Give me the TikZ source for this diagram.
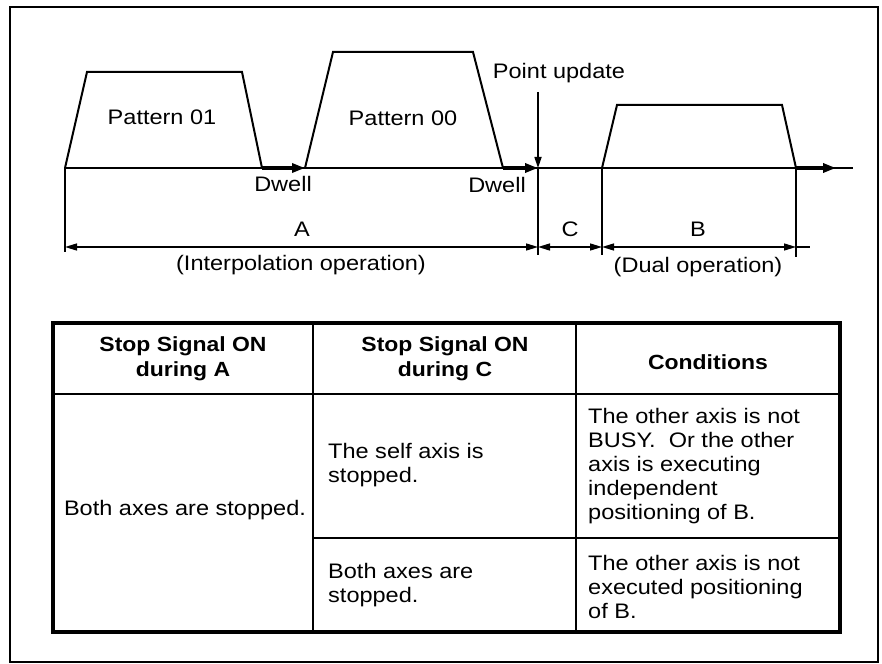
\documentclass[tikz,border=0pt]{standalone}
\usepackage{fontspec}
\setmainfont[FakeStretch=1.12]{Liberation Sans}
\usepackage{tikz}
\usetikzlibrary{positioning, arrows.meta}

\begin{document}
\begin{tikzpicture}[x=1pt, y=-1pt,
        pulse/.style={line width=2pt, line join=miter},
        axisline/.style={line width=1.6pt},
        dwellarrow/.style={-{Triangle[length=13pt, width=9pt]}, line width=3.2pt},
        arrow/.style={-{Triangle[length=11pt, width=7pt]}, line width=1.6pt},
        dimarrow/.style={{Triangle[length=12pt, width=7pt]}-{Triangle[length=12pt, width=7pt]}, line width=1.4pt},
        extline/.style={line width=1.4pt},
        lbl/.style={font=\fontsize{21}{24}\selectfont, inner sep=0pt},
        headtext/.style={font=\bfseries\fontsize{20.5}{25}\selectfont, align=center, inner sep=0pt},
        celltext/.style={font=\fontsize{21}{24}\selectfont, align=left, inner sep=0pt, anchor=west},
        tableframe/.style={line width=3.2pt},
        tablerule/.style={line width=1.6pt}
    ]
    \useasboundingbox (0,0) rectangle (882,663);

    % ============ OUTER FRAME ============
    \draw[line width=2pt] (10,7) rectangle (878,662);

    % ============ TIME AXIS ============
    \coordinate (orig) at (65,168);
    \coordinate (dwellA) at (262,168);
    \coordinate (startB) at (305,168);
    \coordinate (dwellB) at (503,168);
    \coordinate (update) at (538,168);
    \coordinate (dualstart) at (602,168);
    \coordinate (dualend) at (796,168);
    \coordinate (dualtip) at (836,168);
    \coordinate (axisend) at (853,168);

    \draw[axisline] (orig) -- (axisend);

    % pulses
    \draw[pulse] (orig) -- (87,72) -- (242,72) -- (dwellA);
    \draw[pulse] (startB) -- (333,52) -- (473,52) -- (dwellB);
    \draw[pulse] (dualstart) -- (617,105) -- (782,105) -- (dualend);

    \node[lbl] (pat01) at (162,117) {Pattern 01};
    \node[lbl] (pat00) at (403,118) {Pattern 00};

    % dwell segments
    \draw[dwellarrow] (dwellA) -- (startB);
    \draw[dwellarrow] (dwellB) -- (update);
    \draw[dwellarrow] (dualend) -- (dualtip);

    \node[lbl] (dwell1) at (283,184) {Dwell};
    \node[lbl] (dwell2) at (497,185) {Dwell};

    % point update
    \node[lbl] (ptupdate) at (559,73) {Point update};
    \coordinate (updtop) at (538,92);
    \draw[arrow] (updtop) -- (update);

    % ============ DIMENSIONS ============
    \coordinate (dimA) at (65,247);
    \coordinate (dimC) at (538,247);
    \coordinate (dimB) at (602,247);
    \coordinate (dimE) at (796,247);
    \coordinate (dimX) at (810,247);

    \draw[extline] (orig) -- ([yshift=-5pt]dimA);
    \draw[extline] (update) -- ([yshift=-8pt]dimC);
    \draw[extline] (dualstart) -- ([yshift=-8pt]dimB);
    \draw[extline] (dualend) -- ([yshift=-10pt]dimE);

    \draw[dimarrow] (dimA) -- (dimC);
    \draw[dimarrow] (dimC) -- (dimB);
    \draw[dimarrow] (dimB) -- (dimE);
    \draw[extline] (dimE) -- (dimX);

    \node[lbl] (labA) at (302,229) {A};
    \node[lbl] (labC) at (570,229) {C};
    \node[lbl] (labB) at (698,229) {B};
    \node[lbl] (interp) at (301,265) {(Interpolation operation)};
    \node[lbl] (dual) at (698,267) {(Dual operation)};

    % ============ TABLE ============
    \draw[tablerule] (313,323) -- (313,632);
    \draw[tablerule] (576,323) -- (576,632);
    \draw[tablerule] (53,394) -- (840,394);
    \draw[tablerule] (313,538) -- (840,538);
    \draw[tableframe] (53,323) rectangle (840,632);

    \node[headtext] (headA) at (183,359) {Stop Signal ON\\during A};
    \node[headtext] (headC) at (445,359) {Stop Signal ON\\during C};
    \node[headtext] (headcond) at (708,362) {Conditions};

    \node[lbl] (bothA) at (185,510) {Both axes are stopped.};
    \node[celltext] (selfC) at (328,465) {The self axis is\\stopped.};
    \node[celltext] (bothC) at (328,585) {Both axes are\\stopped.};
    \node[celltext] (condone) at (588,466) {The other axis is not\\BUSY.\ \ Or the other\\axis is executing\\independent\\positioning of B.};
    \node[celltext] (condtwo) at (588,587) {The other axis is not\\executed positioning\\of B.};

\end{tikzpicture}
\end{document}
